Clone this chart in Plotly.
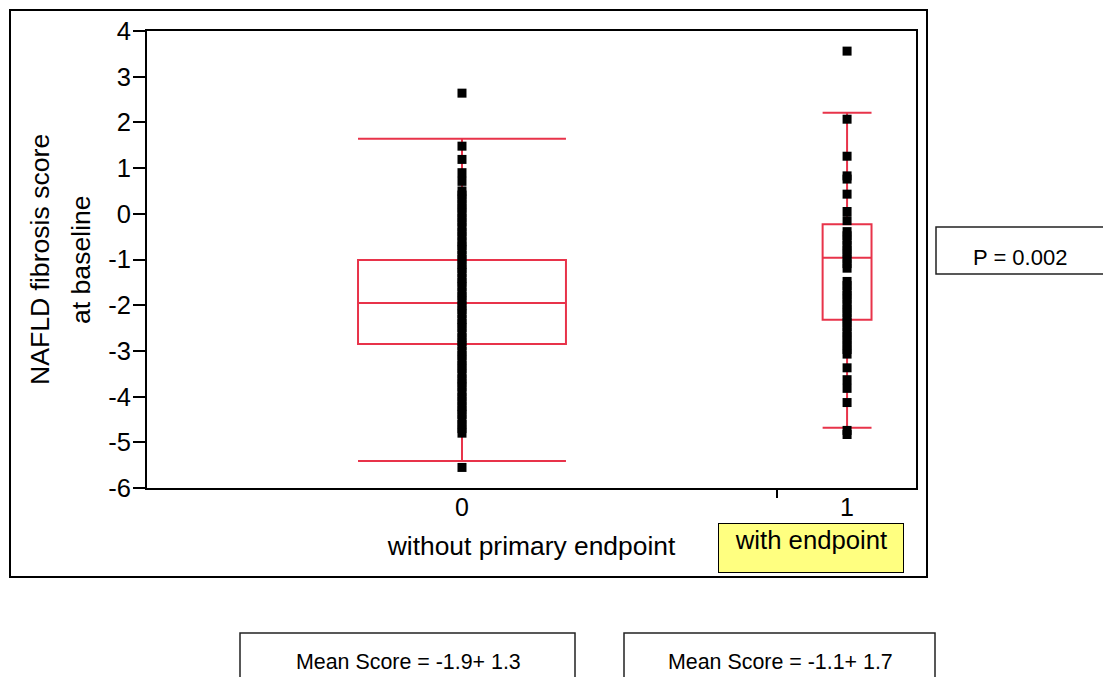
import plotly.graph_objects as go

# ---- data -------------------------------------------------------------
group_x = [0, 1]
group_tick_text = ["0", "1"]

# box summaries (NAFLD fibrosis score) per group
q1 = [-2.85, -2.32]
median = [-1.95, -0.96]
q3 = [-1.01, -0.23]
lower_fence = [-5.41, -4.68]
upper_fence = [1.64, 2.21]

# individual scores, group 0 (without primary endpoint)
scores_without = [
    2.64, 1.48, 1.19, 0.90, 0.71,
    0.50, 0.41, 0.32, 0.21, 0.12, 0.02, -0.09, -0.18, -0.29, -0.40,
    -0.49, -0.61, -0.70, -0.79, -0.91, -1.00, -1.11, -1.20, -1.29, -1.41,
    -1.50, -1.59, -1.71, -1.80, -1.90, -2.01, -2.10, -2.19, -2.31, -2.40,
    -2.49, -2.60, -2.71, -2.80, -2.89, -3.01, -3.10, -3.20, -3.31, -3.39,
    -3.50, -3.61, -3.70, -3.79, -3.90, -4.01, -4.10, -4.21, -4.30, -4.39,
    -4.50, -4.61, -4.70, -4.80, -5.55,
]

# individual scores, group 1 (with endpoint)
scores_with = [
    3.56, 2.07, 1.26, 0.83, 0.76, 0.43, 0.05, -0.15,
    -0.39, -0.48, -0.58, -0.69, -0.79, -0.88, -0.99, -1.09, -1.19,
    -1.48, -1.57, -1.68, -1.78, -1.87, -1.98, -2.08, -2.17, -2.28,
    -2.38, -2.47, -2.58, -2.68, -2.77, -2.88, -2.97, -3.07,
    -3.37, -3.63, -3.82, -4.13, -4.74, -4.83,
]

y_tick_vals = [-6, -5, -4, -3, -2, -1, 0, 1, 2, 3, 4]
y_tick_text = ["-6", "-5", "-4", "-3", "-2", "-1", "0", "1", "2", "3", "4"]

x_title = "without primary endpoint"
y_title_lines = ["NAFLD fibrosis score", "at baseline"]
group1_label = "with endpoint"
p_text = "P = 0.002"
mean_texts = ["Mean Score = -1.9+ 1.3", "Mean Score = -1.1+ 1.7"]

# ---- layout geometry ---------------------------------------------------
W, H = 1103, 677
L, R, T, B = 147, 187, 31, 189
PW, PH = W - L - R, H - T - B
FONT = "Arial, Liberation Sans, sans-serif"
RED = "#e8334a"
box_widths = [0.54, 0.127]


def px(xp):
    return (xp - L) / PW


def py(yp):
    return (H - B - yp) / PH


fig = go.Figure()

for i, gx in enumerate(group_x):
    fig.add_trace(go.Box(
        x=[gx], q1=[q1[i]], median=[median[i]], q3=[q3[i]],
        lowerfence=[lower_fence[i]], upperfence=[upper_fence[i]],
        width=box_widths[i], whiskerwidth=1, boxpoints=False,
        line=dict(color=RED, width=2), fillcolor="rgba(0,0,0,0)",
        showlegend=False, hoverinfo="skip",
    ))

for gx, scores in zip(group_x, [scores_without, scores_with]):
    fig.add_trace(go.Scatter(
        x=[gx] * len(scores), y=scores, mode="markers",
        marker=dict(symbol="square", size=9, color="black", line=dict(width=0)),
        showlegend=False, hoverinfo="skip",
    ))

fig.update_layout(
    width=W, height=H,
    margin=dict(l=L, r=R, t=T, b=B, pad=0),
    paper_bgcolor="white", plot_bgcolor="white",
    font=dict(family=FONT, color="black", size=22),
    xaxis=dict(
        range=[-0.818, 1.179], tickvals=group_x, ticktext=group_tick_text,
        ticks="", showgrid=False, zeroline=False,
        showline=True, linecolor="black", linewidth=2, mirror=True,
        tickfont=dict(size=25), ticklabelstandoff=-4, automargin=False,
        title=dict(text=x_title, font=dict(size=26.4), standoff=17),
    ),
    yaxis=dict(
        range=[-6, 4], tickvals=y_tick_vals, ticktext=y_tick_text,
        ticks="outside", ticklen=12, tickwidth=2, tickcolor="black",
        showgrid=False, zeroline=False,
        showline=True, linecolor="black", linewidth=2, mirror=True,
        tickfont=dict(size=25.5), ticklabelstandoff=-3, automargin=False,
    ),
)

shapes = [
    # outer frame
    dict(type="rect", xref="paper", yref="paper",
         x0=px(10), x1=px(927), y0=py(10), y1=py(577),
         line=dict(color="black", width=2)),
    # lone bottom tick between the groups
    dict(type="line", xref="x", yref="paper", x0=0.818, x1=0.818,
         y0=0, y1=py(498), line=dict(color="black", width=2)),
    # p-value box
    dict(type="rect", xref="paper", yref="paper",
         x0=px(936), x1=px(1115), y0=py(227), y1=py(274),
         line=dict(color="#222222", width=1.5)),
    # mean score boxes
    dict(type="rect", xref="paper", yref="paper",
         x0=px(240), x1=px(575), y0=py(633), y1=py(700),
         line=dict(color="#222222", width=1.5)),
    dict(type="rect", xref="paper", yref="paper",
         x0=px(624), x1=px(935), y0=py(633), y1=py(700),
         line=dict(color="#222222", width=1.5)),
]
fig.update_layout(shapes=shapes)

annotations = [
    dict(text=y_title_lines[0], x=px(40), y=py(260), textangle=-90,
         font=dict(size=26.6)),
    dict(text=y_title_lines[1], x=px(81), y=py(260), textangle=-90,
         font=dict(size=26.6)),
    dict(text=group1_label, x=px(811), y=py(548), font=dict(size=25.7),
         bgcolor="#ffff80", bordercolor="black", borderwidth=1,
         borderpad=2, width=180, height=44, valign="top"),
    dict(text=p_text, x=px(1020), y=py(257), font=dict(size=22)),
    dict(text=mean_texts[0], x=px(408), y=py(662), font=dict(size=21.4)),
    dict(text=mean_texts[1], x=px(780), y=py(662), font=dict(size=21.4)),
]
for a in annotations:
    a.update(xref="paper", yref="paper", showarrow=False,
             xanchor="center", yanchor="middle")
fig.update_layout(annotations=annotations)

fig.write_html("out.html")
